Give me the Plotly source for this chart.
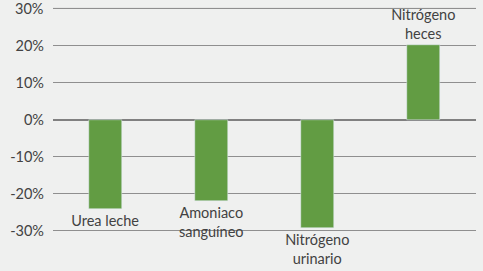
import plotly.graph_objects as go

categories = ["Urea leche", "Amoniaco<br>sanguíneo", "Nitrógeno<br>urinario", "Nitrógeno<br>heces"]
values = [-0.242, -0.22, -0.294, 0.20]
tick_vals = [-0.3, -0.2, -0.1, 0, 0.1, 0.2, 0.3]
tick_text = ["-30%", "-20%", "-10%", "0%", "10%", "20%", "30%"]

fig = go.Figure(go.Bar(
    x=list(range(len(categories))), y=values,
    marker_color="#629c43", width=0.31,
    text=categories, textposition="outside", cliponaxis=False,
    constraintext="none",
    textfont=dict(family="Lato, sans-serif", size=14.5, color="#424242"),
))
fig.update_layout(
    width=483, height=271, margin=dict(l=53, r=7, t=1, b=33, autoexpand=False),
    paper_bgcolor="#eff0ef", plot_bgcolor="#eff0ef",
    showlegend=False, bargap=0,
    font=dict(family="Lato, sans-serif", size=14.5, color="#424242"),
)
fig.update_xaxes(visible=False, range=[-0.5, 3.5])
fig.update_yaxes(range=[-0.32, 0.32], tickmode="array", tickvals=tick_vals, ticktext=tick_text,
                 showgrid=True, gridcolor="#8f8f8f", gridwidth=1,
                 zeroline=True, zerolinecolor="#808080", zerolinewidth=2,
                 ticks="", ticklabelstandoff=8, automargin=False)
# top gridline and label drawn explicitly from the tick lists
fig.add_shape(type="line", xref="paper", yref="y", x0=0, x1=1,
              y0=tick_vals[-1], y1=tick_vals[-1],
              line=dict(color="#8f8f8f", width=1), layer="below")
fig.add_annotation(xref="paper", yref="y", x=0, y=tick_vals[-1], text=tick_text[-1],
                   showarrow=False, xanchor="right", xshift=-8,
                   font=dict(family="Lato, sans-serif", size=14.5, color="#424242"))
fig.write_html("out.html", config={"displayModeBar": False},
               post_script="document.body.style.margin='0';document.body.style.background='#eff0ef';")
